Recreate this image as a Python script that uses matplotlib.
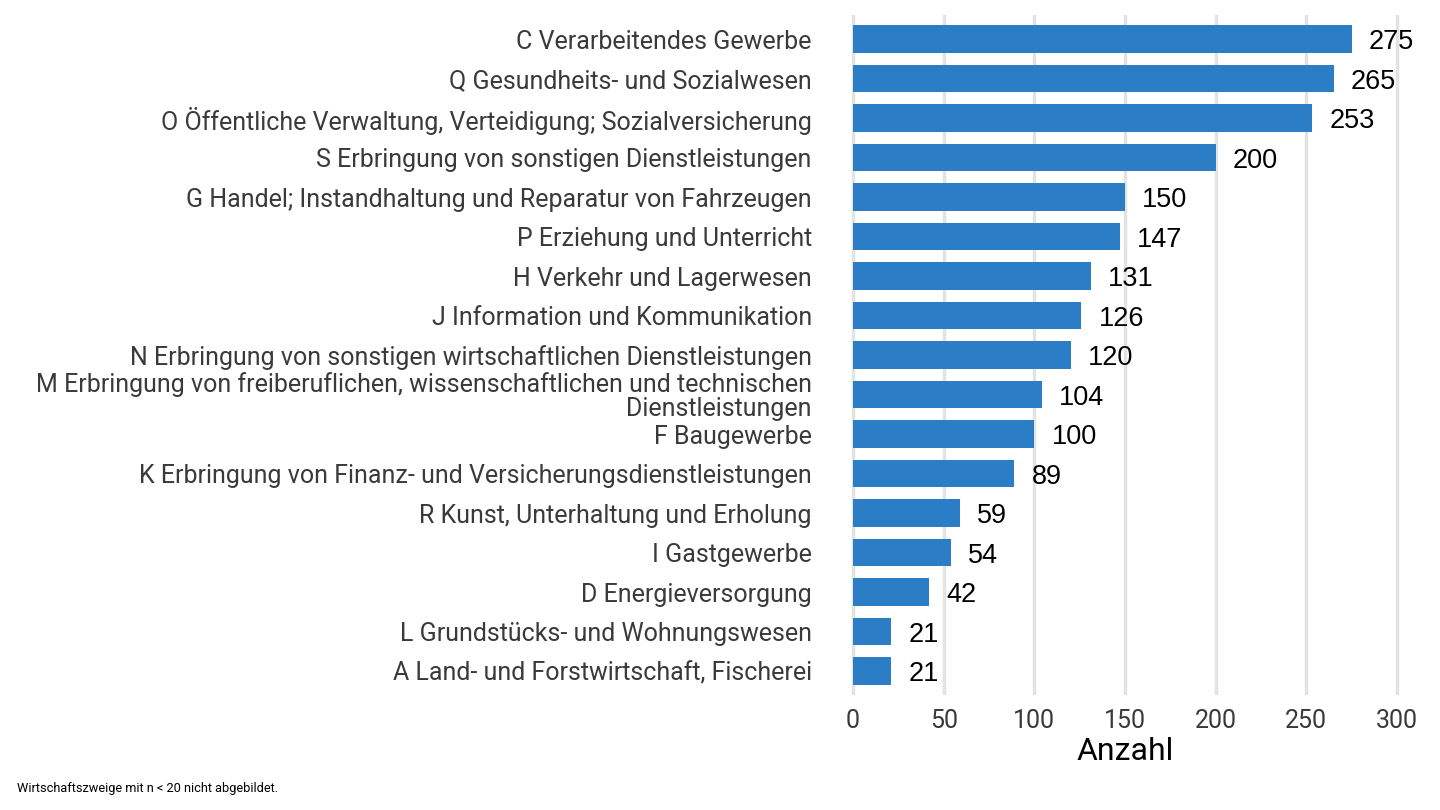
import matplotlib.pyplot as plt

branchen = [
    "C Verarbeitendes Gewerbe",
    "Q Gesundheits- und Sozialwesen",
    "O Öffentliche Verwaltung, Verteidigung; Sozialversicherung",
    "S Erbringung von sonstigen Dienstleistungen",
    "G Handel; Instandhaltung und Reparatur von Fahrzeugen",
    "P Erziehung und Unterricht",
    "H Verkehr und Lagerwesen",
    "J Information und Kommunikation",
    "N Erbringung von sonstigen wirtschaftlichen Dienstleistungen",
    "M Erbringung von freiberuflichen, wissenschaftlichen und technischen\nDienstleistungen",
    "F Baugewerbe",
    "K Erbringung von Finanz- und Versicherungsdienstleistungen",
    "R Kunst, Unterhaltung und Erholung",
    "I Gastgewerbe",
    "D Energieversorgung",
    "L Grundstücks- und Wohnungswesen",
    "A Land- und Forstwirtschaft, Fischerei",
]
anzahl = [275, 265, 253, 200, 150, 147, 131, 126, 120, 104, 100, 89, 59, 54, 42, 21, 21]
xticks = [0, 50, 100, 150, 200, 250, 300]

fig = plt.figure(figsize=(14.4, 8.1), dpi=100)
x0, x1 = -2, 302.5
# panel: 0 at x=853px, 300 at x=1397px
pxu = 544 / 300
left = (853 + x0 * pxu) / 1440
width = (x1 - x0) * pxu / 1440
ax = fig.add_axes([left, 0.1423, width, 0.8388])

n = len(branchen)
pos = list(range(n - 1, -1, -1))
ax.barh(pos, anzahl, height=0.7, color="#2B7EC6", zorder=2)

for p, v in zip(pos, anzahl):
    ax.annotate(str(v), (v, p), xytext=(12.5, 0), textcoords="offset points",
                ha="left", va="center_baseline", fontsize=19.5,
                family="Liberation Sans", color="black")

ax.set_xlim(x0, x1)
ax.set_ylim(-0.6, n - 0.4)
ax.set_xticks(xticks)
ax.set_yticks(pos)
ax.set_yticklabels(branchen, family="Roboto", fontsize=18, color="#3a3a3a",
                   linespacing=0.98)
for lab in ax.get_xticklabels():
    lab.set_family("Roboto")
ax.tick_params(axis="x", labelsize=18, labelcolor="#3a3a3a", length=0, pad=10)
ax.tick_params(axis="y", length=0, pad=27)
ax.grid(axis="x", color="#e3e3e3", linewidth=2.5, zorder=0)
ax.set_axisbelow(True)
for s in ax.spines.values():
    s.set_visible(False)

ax.set_xlabel("Anzahl", family="Roboto", fontsize=23, color="black", labelpad=3)

fig.text(0.012, 0.027, "Wirtschaftszweige mit n < 20 nicht abgebildet.",
         family="Roboto", fontsize=9.2, color="black", ha="left", va="center")

fig.savefig("out.png", dpi=100)
